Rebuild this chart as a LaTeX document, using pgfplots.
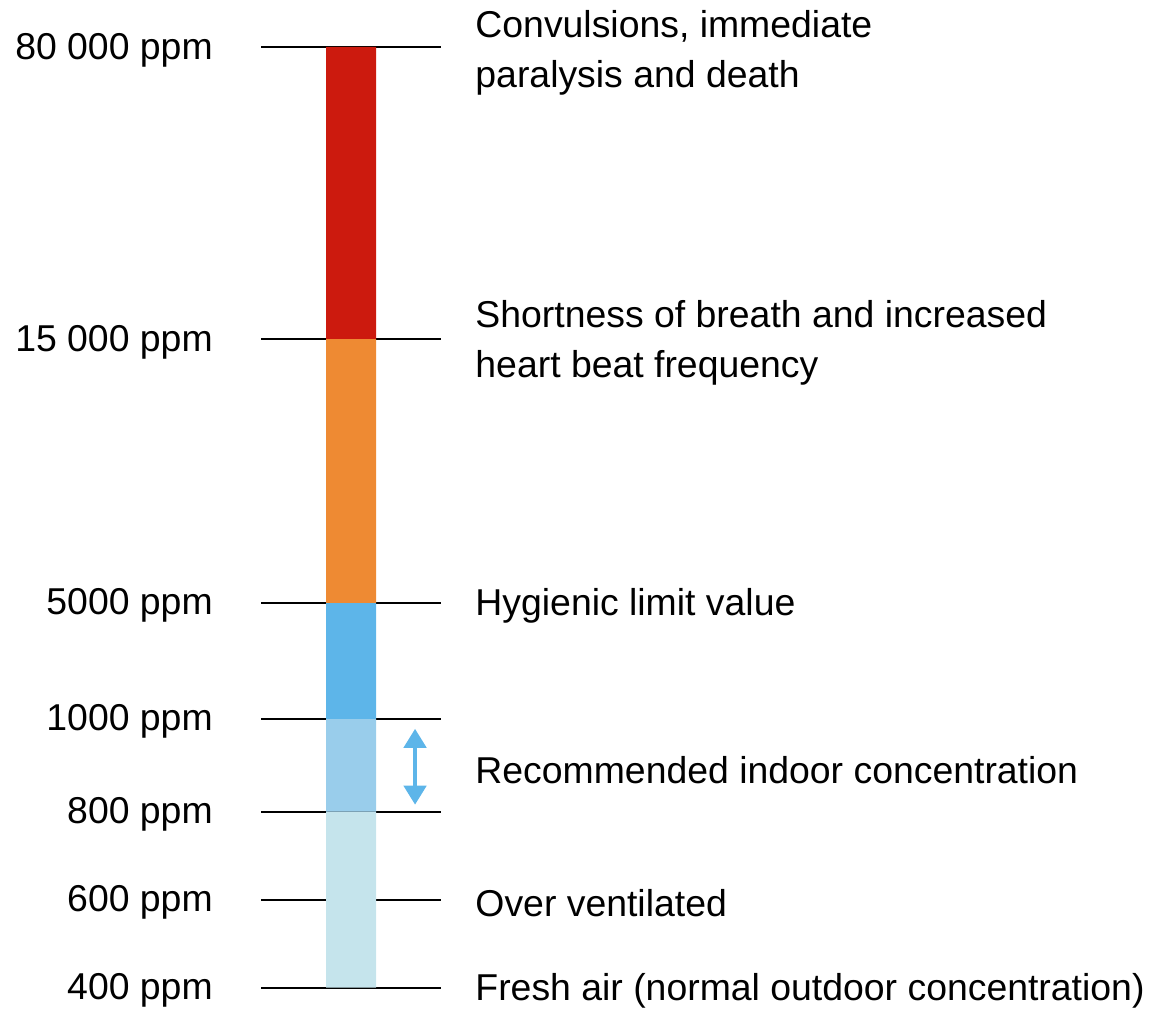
\documentclass[border=0pt]{standalone}
\usepackage{fontspec}
\setmainfont{Liberation Sans}
\usepackage{pgfplots}
\pgfplotsset{compat=1.18}
\usetikzlibrary{arrows.meta}
\definecolor{cRed}{HTML}{CC1A0E}
\definecolor{cOrange}{HTML}{EE8A33}
\definecolor{cBlue}{HTML}{5DB5E9}
\definecolor{cLight}{HTML}{99CDEB}
\definecolor{cPale}{HTML}{C5E4EC}
\newcommand{\lbl}{\fontsize{18.7}{24.8}\selectfont}
\begin{document}
\begin{tikzpicture}
\begin{axis}[
  scale only axis, width=579pt, height=503.5pt,
  xmin=0, xmax=1158, ymin=0, ymax=1007,
  clip=false,
  axis line style={draw=none},
  major tick length=0pt,
  xtick=\empty,
  ytick={19,107,195,288,404,668,960},
  yticklabels={400 ppm,600 ppm,800 ppm,1000 ppm,5000 ppm,15 000 ppm,80 000 ppm},
  yticklabel style={font=\lbl, anchor=east, inner sep=0pt, xshift=106.5pt, yshift=-1.5pt},
]
% tick lines
\addplot[black, line width=1pt, unbounded coords=jump] table[row sep=\\] {
x y\\
261 19\\ 441 19\\ nan nan\\
261 107\\ 441 107\\ nan nan\\
261 195\\ 441 195\\ nan nan\\
261 288\\ 441 288\\ nan nan\\
261 404\\ 441 404\\ nan nan\\
261 668\\ 441 668\\ nan nan\\
261 960\\ 441 960\\
};
% stacked segments
\addplot[fill=cPale, draw=none] coordinates {(326,19) (376,19) (376,195) (326,195) (326,19)};
\addplot[fill=cLight, draw=none] coordinates {(326,195) (376,195) (376,288) (326,288) (326,195)};
\addplot[fill=cBlue, draw=none] coordinates {(326,288) (376,288) (376,404) (326,404) (326,288)};
\addplot[fill=cOrange, draw=none] coordinates {(326,404) (376,404) (376,668) (326,668) (326,404)};
\addplot[fill=cRed, draw=none] coordinates {(326,668) (376,668) (376,960) (326,960) (326,668)};
% arrow
\addplot[cBlue, line width=2.2pt, {Triangle[width=11pt,length=9.5pt]}-{Triangle[width=11pt,length=9.5pt]}] coordinates {(415,202) (415,278)};
% labels
\begin{scope}[every node/.style={anchor=west, inner sep=0pt, font=\lbl, align=left, yshift=-1.5pt}]
\node at (axis cs:475,957) {Convulsions, immediate\\paralysis and death};
\node at (axis cs:475,667) {Shortness of breath and increased\\heart beat frequency};
\node at (axis cs:475,404) {Hygienic limit value};
\node at (axis cs:475,240) {Recommended indoor concentration};
\node at (axis cs:475,107) {Over ventilated};
\node at (axis cs:475,19) {Fresh air (normal outdoor concentration)};
\end{scope}
\path (axis cs:0,0) rectangle (axis cs:1158,1007);
\end{axis}
\end{tikzpicture}
\end{document}
